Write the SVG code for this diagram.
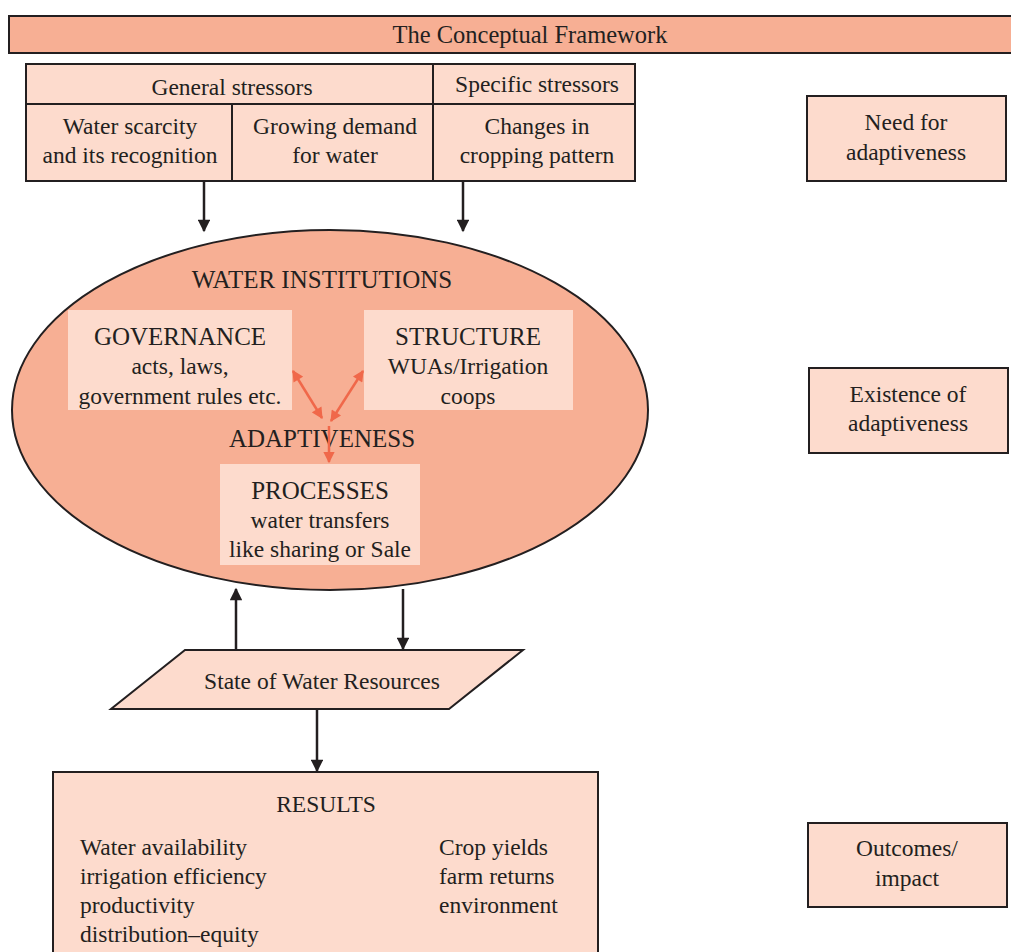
<svg xmlns="http://www.w3.org/2000/svg" width="1011" height="952" viewBox="0 0 1011 952">
<style>
text{font-family:"Liberation Serif","Times New Roman",serif;font-size:23.5px;fill:#231f20;text-anchor:middle}
.l{text-anchor:start}
.cap{font-size:25px}
.box{fill:#fddbcd;stroke:#231f20;stroke-width:2}
.dark{fill:#f7af94;stroke:#231f20;stroke-width:2}
.inner{fill:#fddbcd;stroke:none}
.con{stroke:#231f20;stroke-width:2.5;fill:none}
.red{stroke:#f0684a;stroke-width:2.5;fill:none}
</style>
<defs>
<marker id="ah" viewBox="0 0 10 10" refX="9" refY="5" markerWidth="5.5" markerHeight="5" orient="auto-start-reverse" markerUnits="strokeWidth"><path d="M0,0 L10,5 L0,10 z" fill="#231f20"/></marker>
<marker id="rh" viewBox="0 0 10 10" refX="9" refY="5" markerWidth="5" markerHeight="4.5" orient="auto-start-reverse" markerUnits="strokeWidth"><path d="M0,0 L10,5 L0,10 z" fill="#f0684a"/></marker>
</defs>
<rect width="1011" height="952" fill="#fff"/>
<g id="title"><rect class="dark" x="9" y="16" width="1010" height="37"/><text x="530" y="43" style="font-size:24.5px">The Conceptual Framework</text></g>
<g id="stressors">
<rect class="box" x="26" y="64" width="609" height="117"/>
<line x1="26" y1="104" x2="635" y2="104" stroke="#231f20" stroke-width="2"/>
<line x1="433" y1="64" x2="433" y2="181" stroke="#231f20" stroke-width="2"/>
<line x1="232" y1="104" x2="232" y2="181" stroke="#231f20" stroke-width="2"/>
<text x="232" y="95">General stressors</text>
<text x="537" y="92">Specific stressors</text>
<text x="130" y="134">Water scarcity</text><text x="130" y="163">and its recognition</text>
<text x="335" y="134">Growing demand</text><text x="335" y="163">for water</text>
<text x="537" y="134">Changes in</text><text x="537" y="163">cropping pattern</text>
</g>
<g id="institutions">
<ellipse class="dark" cx="330" cy="410" rx="318" ry="180"/>
<text class="cap" x="322" y="288">WATER INSTITUTIONS</text>
<text class="cap" x="322" y="447">ADAPTIVENESS</text>
</g>
<g id="governance"><rect class="inner" x="68" y="310" width="224" height="100"/>
<text class="cap" x="180" y="345">GOVERNANCE</text><text x="180" y="374">acts, laws,</text><text x="180" y="404">government rules etc.</text></g>
<g id="structure"><rect class="inner" x="364" y="310" width="209" height="100"/>
<text class="cap" x="468" y="345">STRUCTURE</text><text x="468" y="374">WUAs/Irrigation</text><text x="468" y="404">coops</text></g>
<g id="processes"><rect class="inner" x="220" y="464" width="200" height="101"/>
<text class="cap" x="320" y="499">PROCESSES</text><text x="320" y="528">water transfers</text><text x="320" y="557">like sharing or Sale</text></g>
<g id="state"><polygon class="box" points="185,650 523,650 449,709 111,709"/><text x="322" y="689">State of Water Resources</text></g>
<g id="results"><rect class="box" x="53" y="772" width="545" height="200"/>
<text x="326" y="812">RESULTS</text>
<text class="l" x="80" y="855">Water availability</text><text class="l" x="80" y="884">irrigation efficiency</text><text class="l" x="80" y="913">productivity</text><text class="l" x="80" y="942">distribution–equity</text>
<text class="l" x="439" y="855">Crop yields</text><text class="l" x="439" y="884">farm returns</text><text class="l" x="439" y="913">environment</text></g>
<g id="need"><rect class="box" x="807" y="96" width="199" height="85"/><text x="906" y="130">Need for</text><text x="906" y="160">adaptiveness</text></g>
<g id="existence"><rect class="box" x="809" y="368" width="199" height="85"/><text x="908" y="402">Existence of</text><text x="908" y="431">adaptiveness</text></g>
<g id="outcomes"><rect class="box" x="808" y="823" width="199" height="84"/><text x="907" y="856">Outcomes/</text><text x="907" y="886">impact</text></g>
<g id="connectors">
<line class="con" x1="204" y1="181" x2="204" y2="231" marker-end="url(#ah)"/>
<line class="con" x1="463" y1="181" x2="463" y2="231" marker-end="url(#ah)"/>
<line class="con" x1="236" y1="650" x2="236" y2="589" marker-end="url(#ah)"/>
<line class="con" x1="403" y1="589" x2="403" y2="649" marker-end="url(#ah)"/>
<line class="con" x1="317" y1="709" x2="317" y2="771" marker-end="url(#ah)"/>
<line class="red" x1="293" y1="371" x2="322" y2="418" marker-start="url(#rh)" marker-end="url(#rh)"/>
<line class="red" x1="363" y1="371" x2="331" y2="421" marker-start="url(#rh)" marker-end="url(#rh)"/>
<line class="red" x1="329" y1="426" x2="329" y2="462" marker-end="url(#rh)"/>
</g>
</svg>
